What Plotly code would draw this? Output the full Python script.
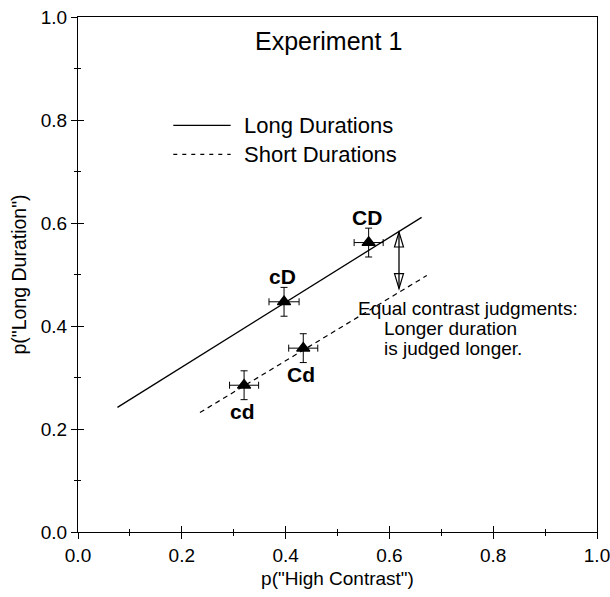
import plotly.graph_objects as go

# Mean judgments per condition (C/c = high/low contrast, D/d = long/short duration)
conditions = ["cd", "Cd", "cD", "CD"]
p_high_contrast = [0.320, 0.434, 0.397, 0.560]
p_long_duration = [0.285, 0.357, 0.447, 0.562]
se_contrast = [0.028, 0.028, 0.029, 0.028]
se_duration = [0.028, 0.028, 0.028, 0.028]
label_side = ["below", "below", "above", "above"]

# Fitted lines for long and short durations
long_fit_x = [0.076, 0.662]
long_fit_y = [0.242, 0.611]
short_fit_x = [0.235, 0.672]
short_fit_y = [0.232, 0.498]

# Double-headed arrow marking the gap between the two lines
gap_arrow_x = 0.6185
gap_arrow_y = [0.4726, 0.5825]

tick_vals = [0.0, 0.2, 0.4, 0.6, 0.8, 1.0]
tick_text = ["0.0", "0.2", "0.4", "0.6", "0.8", "1.0"]

FONT = "Liberation Sans, Arial, Helvetica, sans-serif"

fig = go.Figure()

fig.add_trace(go.Scatter(
    x=long_fit_x, y=long_fit_y, mode="lines",
    line=dict(color="black", width=1.3), showlegend=False, hoverinfo="skip"))
fig.add_trace(go.Scatter(
    x=short_fit_x, y=short_fit_y, mode="lines",
    line=dict(color="black", width=1.2, dash="5px,4px"), showlegend=False,
    hoverinfo="skip"))

fig.add_trace(go.Scatter(
    x=p_high_contrast, y=p_long_duration, mode="markers",
    marker=dict(symbol="triangle-up", size=11.5, color="black",
                line=dict(color="black", width=1.2)),
    error_x=dict(type="data", array=se_contrast, color="black", thickness=1, width=3.5),
    error_y=dict(type="data", array=se_duration, color="black", thickness=1, width=3.5),
    showlegend=False, text=conditions))

# invisible trace so the overlaid tick axes are drawn
fig.add_trace(go.Scatter(x=[0], y=[0], xaxis="x2", yaxis="y2", mode="markers",
                         marker=dict(opacity=0), showlegend=False, hoverinfo="skip"))

for cond, x, y, side in zip(conditions, p_high_contrast, p_long_duration, label_side):
    fig.add_annotation(x=x, y=y, text=f"<b>{cond}</b>", showarrow=False,
                       xshift=-2, yshift=25 if side == "above" else -26,
                       font=dict(family=FONT, size=21, color="black"))

# gap arrow: shaft plus open arrowheads (pixel-sized)
fig.add_shape(type="line", x0=gap_arrow_x, x1=gap_arrow_x,
              y0=gap_arrow_y[0], y1=gap_arrow_y[1],
              line=dict(color="black", width=1.3))
fig.add_shape(type="path", xsizemode="pixel", ysizemode="pixel",
              xanchor=gap_arrow_x, yanchor=gap_arrow_y[1],
              path="M0,0 L-4.5,-15 L4.5,-15 Z", line=dict(color="black", width=1.2))
fig.add_shape(type="path", xsizemode="pixel", ysizemode="pixel",
              xanchor=gap_arrow_x, yanchor=gap_arrow_y[0],
              path="M0,0 L-4.5,15 L4.5,15 Z", line=dict(color="black", width=1.2))

# explanatory note
note_lines = [("Equal contrast judgments:", 0.5356, 0.434),
              ("Longer duration", 0.5863, 0.395),
              ("is judged longer.", 0.5863, 0.357)]
for txt, xp, yp in note_lines:
    fig.add_annotation(x=xp, y=yp, xref="paper", yref="paper", text=txt,
                       showarrow=False, xanchor="left", yanchor="middle",
                       font=dict(family=FONT, size=19, color="black"))

# title
fig.add_annotation(x=0.4817, y=0.9528, xref="paper", yref="paper", text="Experiment 1",
                   showarrow=False, xanchor="center", yanchor="middle",
                   font=dict(family=FONT, size=25, color="black"))

# key
key_items = [("Long Durations", "solid", 0.7897), ("Short Durations", "4px,5px", 0.7334)]
for name, dash, yp in key_items:
    fig.add_shape(type="line", xref="paper", yref="paper", x0=0.1836, x1=0.2941,
                  y0=yp, y1=yp, line=dict(color="black", width=1.2, dash=dash))
    fig.add_annotation(x=0.3154, y=yp, xref="paper", yref="paper", text=name,
                       showarrow=False, xanchor="left", yanchor="middle",
                       font=dict(family=FONT, size=22, color="black"))

axis_common = dict(range=[0, 1], showgrid=False, zeroline=False, automargin=False,
                   tickvals=tick_vals, ticklen=6, tickwidth=1, tickcolor="black")
fig.update_layout(
    width=610, height=597,
    margin=dict(l=78, r=13, t=17, b=65),
    paper_bgcolor="white", plot_bgcolor="white",
    font=dict(family=FONT, size=19, color="black"),
    xaxis=dict(**axis_common, ticktext=tick_text, ticks="outside",
               ticklabeloverflow="allow",
               showline=True, linecolor="black", linewidth=1, mirror=True,
               minor=dict(ticks="outside", ticklen=3, dtick=0.1, tickcolor="black"),
               title=dict(text='p("High Contrast")', font=dict(size=19), standoff=6),
               tickfont=dict(size=19)),
    yaxis=dict(**axis_common, ticktext=tick_text, ticks="outside",
               ticklabeloverflow="allow",
               showline=True, linecolor="black", linewidth=1, mirror=True,
               minor=dict(ticks="outside", ticklen=3, dtick=0.1, tickcolor="black"),
               title=dict(text='p("Long Duration")', font=dict(size=19.5), standoff=8),
               tickfont=dict(size=19)),
    xaxis2=dict(**axis_common, overlaying="x", side="bottom", ticks="inside",
                showticklabels=False, showline=False,
                minor=dict(ticks="inside", ticklen=3, dtick=0.1, tickcolor="black")),
    yaxis2=dict(**axis_common, overlaying="y", side="left", ticks="inside",
                showticklabels=False, showline=False,
                minor=dict(ticks="inside", ticklen=3, dtick=0.1, tickcolor="black")),
)

fig.write_html("out.html")
